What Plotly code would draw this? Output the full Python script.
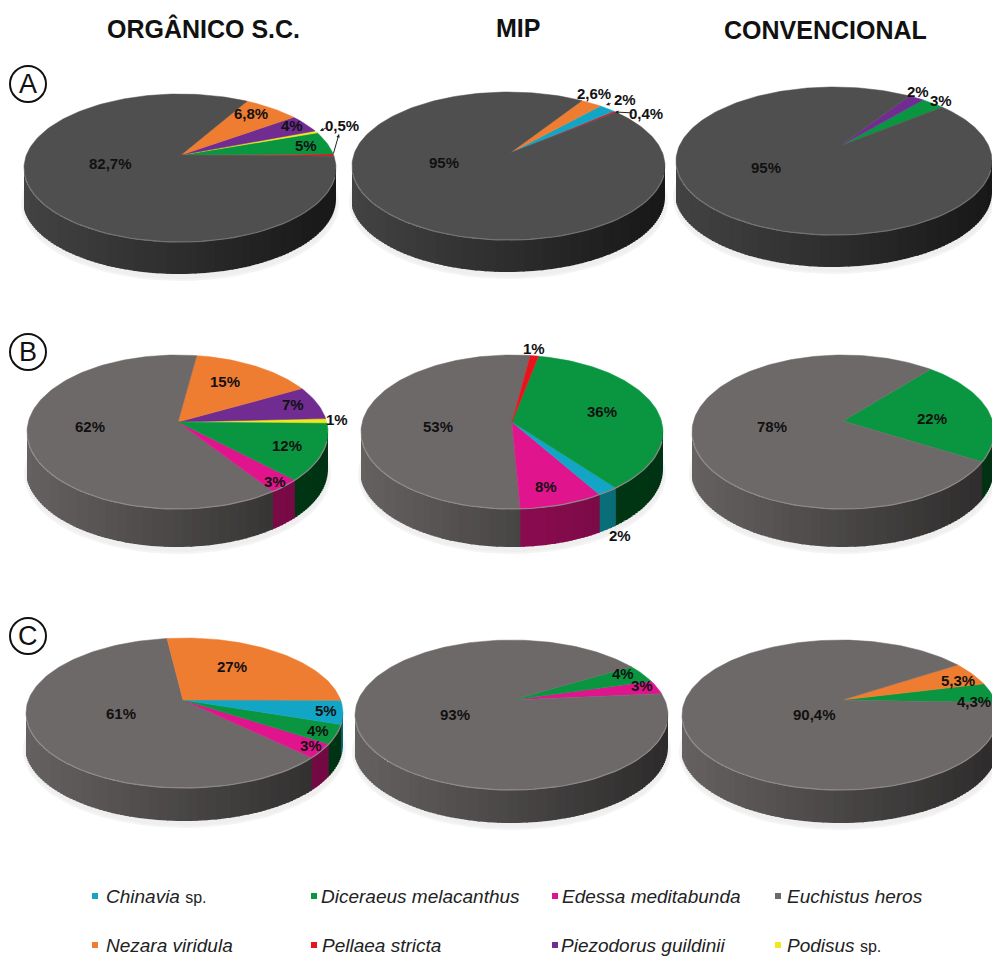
import math
import plotly.graph_objects as go

SPECIES = ["Chinavia sp.", "Diceraeus melacanthus", "Edessa meditabunda", "Euchistus heros",
           "Nezara viridula", "Pellaea stricta", "Piezodorus guildinii", "Podisus sp."]
# values in SPECIES order
A_ORGANICO = [0, 5, 0, 82.7, 6.8, 0.5, 4, 0.5]
A_MIP = [2, 0, 0, 95, 2.6, 0.4, 0, 0]
A_CONV = [0, 3, 0, 95, 0, 0, 2, 0]
B_ORGANICO = [0, 12, 3, 62, 15, 0, 7, 1]
B_MIP = [2, 36, 8, 53, 0, 1, 0, 0]
B_CONV = [0, 22, 0, 78, 0, 0, 0, 0]
C_ORGANICO = [5, 4, 3, 61, 27, 0, 0, 0]
C_MIP = [0, 4, 3, 93, 0, 0, 0, 0]
C_CONV = [0, 4.3, 0, 90.4, 5.3, 0, 0, 0]
COLUMN_TITLES = ["ORGÂNICO S.C.", "MIP", "CONVENCIONAL"]
ROW_LETTERS = ["A", "B", "C"]

# ---- styles / layout ----
COLORS = ["#12a5c5", "#0a9640", "#e0158e", "#6e6969", "#ee7d31", "#e8141c", "#702c91", "#f0e81a"]
SIDE = ["#0b7d88", "#003f18", "#8a0c50", "#444040", "#a85a20", "#8a0c10", "#40185a", "#888010"]
DARK_GRAY = "#4f4f4f"
ORDER_A1 = [5, 1, 7, 6, 4, 3]
ORDER_A2 = [5, 0, 4, 3]
ORDER_A3 = [1, 6, 3]
ORDER_B1 = [7, 6, 4, 3, 2, 1]
ORDER_B2 = [3, 2, 0, 1, 5]
ORDER_B3 = [1, 3]
ORDER_C1 = [3, 2, 1, 0, 4]
ORDER_C2 = [2, 1, 3]
ORDER_C3 = [1, 4, 3]
# values, order, start angle, left, right, top, apex x, apex y, ellipse half height, depth, dark
PIES = [
    (A_ORGANICO, ORDER_A1, -1, 24, 336, 94, 181, 155, 74, 32, True),
    (A_MIP, ORDER_A2, 39, 352, 665, 92, 510, 153, 74, 32, True),
    (A_CONV, ORDER_A3, 39, 676, 992, 87, 840, 146, 74, 32, True),
    (B_ORGANICO, ORDER_B1, -1, 27, 328, 355, 178, 422, 77, 38, False),
    (B_MIP, ORDER_B2, 82, 361, 663, 355, 512, 422, 77, 38, False),
    (B_CONV, ORDER_B3, -30, 692, 994, 355, 843, 421, 77, 38, False),
    (C_ORGANICO, ORDER_C1, 97, 26, 343, 638, 183, 700, 75, 33, False),
    (C_MIP, ORDER_C2, 5, 355, 668, 640, 512, 700, 75, 33, False),
    (C_CONV, ORDER_C3, -2, 682, 998, 640, 842, 700, 75, 33, False),
]
LABELS = [
    ("82,7%", 110, 163), ("6,8%", 251, 113), ("4%", 292, 125), ("5%", 306, 145), ("0,5%", 342, 125),
    ("95%", 444, 162), ("2,6%", 594, 93), ("2%", 625, 99), ("0,4%", 646, 113),
    ("95%", 766, 167), ("2%", 918, 91), ("3%", 941, 100),
    ("62%", 90, 426), ("15%", 225, 381), ("7%", 293, 404), ("1%", 337, 419), ("12%", 287, 445), ("3%", 275, 481),
    ("53%", 438, 426), ("1%", 534, 348), ("36%", 602, 411), ("8%", 546, 486), ("2%", 620, 535),
    ("78%", 772, 426), ("22%", 932, 418),
    ("61%", 121, 713), ("27%", 232, 666), ("5%", 326, 710), ("4%", 318, 730), ("3%", 311, 745),
    ("93%", 455, 714), ("4%", 623, 673), ("3%", 642, 685),
    ("90,4%", 814, 714), ("5,3%", 958, 680), ("4,3%", 974, 701),
]
LEGEND_POS = [(95, 104, 896), (314, 319, 896), (555, 560, 896), (778, 785, 896),
              (95, 104, 945), (314, 320, 945), (555, 559, 945), (778, 785, 945)]
FONT = "Liberation Sans Narrow, Liberation Sans, Arial, sans-serif"
SHADES = 32


def mix(col, f):
    h = col.lstrip("#")
    r, g, b = (int(h[i:i + 2], 16) for i in (0, 2, 4))
    return "#%02x%02x%02x" % (min(255, int(r * f)), min(255, int(g * f)), min(255, int(b * f)))


def ray(theta, ax, ay, cx, cy, a, b):
    """Intersect a ray from the apex with the top ellipse; theta in degrees, counter-clockwise."""
    dx, dy = a * math.cos(math.radians(theta)), -b * math.sin(math.radians(theta))
    px, py = (ax - cx) / a, (ay - cy) / b
    qx, qy = dx / a, dy / b
    A = qx * qx + qy * qy
    B = 2 * (px * qx + py * qy)
    C = px * px + py * py - 1
    s = (-B + math.sqrt(B * B - 4 * A * C)) / (2 * A)
    return ax + s * dx, ay + s * dy


fig = go.Figure()
side_traces = []
tops = []
rims = []
shadows = []

for vals, order, start, left, right, top, ax, ay, b, depth, dark in PIES:
    cx, a = (left + right) / 2, (right - left) / 2
    cy = top + b
    total = sum(vals)
    gray = DARK_GRAY if dark else COLORS[3]
    th = start
    strips = []
    for k in order:
        span = vals[k] / total * 360
        col = gray if k == 3 else COLORS[k]
        n = max(2, int(span / 1.5))
        pts = [ray(th + span * i / n, ax, ay, cx, cy, a, b) for i in range(n + 1)]
        # side wall strips, in a banded shade that darkens to the right
        for i in range(n):
            (x0, y0), (x1, y1) = pts[i], pts[i + 1]
            if y0 < cy and y1 < cy:
                continue
            xm = (x0 + x1) / 2
            u = round((xm - left) / (right - left) * SHADES) / SHADES
            shade = 0.93 - 0.52 * u if not dark else 0.85 - 0.55 * u
            c = mix(gray, shade) if k == 3 else mix(SIDE[k], min(1.0, 1.25 - 0.45 * u))
            xl = max(left, x0 - 1.5)
            strips.append((xm, c, [xl, x1, x1, xl, xl, None], [y0, y1, y1 + depth, y0 + depth, y0, None]))
        tops.append(([ax] + [p[0] for p in pts] + [ax], [ay] + [p[1] for p in pts] + [ay], col))
        th += span
    strips.sort(key=lambda s: -s[0])  # right first, left strips on top
    last = None
    for xm, c, xs, ys in strips:
        if last is None or last[0] != c:
            last = [c, [], []]
            side_traces.append(last)
        last[1].extend(xs)
        last[2].extend(ys)
    # rim highlight and soft shadow
    rx, ry = [], []
    for d in range(185, 356, 3):
        rx.append(cx + a * math.cos(math.radians(d)))
        ry.append(cy - b * math.sin(math.radians(d)))
    rims.append((rx, ry, mix(gray, 1.45 if dark else 1.3)))
    sx, sy = [], []
    for d in range(0, 361, 5):
        sx.append(cx + (a + 2) * math.cos(math.radians(d)))
        sy.append(cy + depth + 4 - (b + 2) * math.sin(math.radians(d)))
    shadows.append((sx, sy))

for sx, sy in shadows:
    fig.add_trace(go.Scatter(x=sx, y=sy, mode="lines", fill="toself", fillcolor="#efefef",
                             line=dict(color="#f4f4f4", width=2), hoverinfo="skip"))
for c, xs, ys in side_traces:
    fig.add_trace(go.Scatter(x=xs, y=ys, mode="lines", fill="toself", fillcolor=c,
                             line=dict(width=0), hoverinfo="skip"))
for xs, ys, c in tops:
    fig.add_trace(go.Scatter(x=xs, y=ys, mode="lines", fill="toself", fillcolor=c,
                             line=dict(color=c, width=0.5), hoverinfo="skip"))
for xs, ys, c in rims:
    fig.add_trace(go.Scatter(x=xs, y=ys, mode="lines", line=dict(color=c, width=1.2), hoverinfo="skip"))

# legend markers
fig.add_trace(go.Scatter(x=[p[0] for p in LEGEND_POS], y=[p[2] for p in LEGEND_POS], mode="markers",
                         marker=dict(symbol="square", size=6, color=COLORS), hoverinfo="skip"))

ann = []
for t, x, y in LABELS:
    ann.append(dict(x=x, y=y, text="<b>%s</b>" % t, showarrow=False,
                    font=dict(family=FONT, size=15, color="#111111")))
for t, x, y in zip(COLUMN_TITLES, (203, 518, 825), (28, 28, 30)):
    ann.append(dict(x=x, y=y, text="<b>%s</b>" % t, showarrow=False,
                    font=dict(family="Liberation Sans, Arial, sans-serif", size=25, color="#111111")))
for t, y in zip(ROW_LETTERS, (84, 352, 636)):
    ann.append(dict(x=28, y=y, text=t, showarrow=False,
                    font=dict(family="Liberation Sans, Arial, sans-serif", size=27, color="#111111")))
for name, (mx, tx, y) in zip(SPECIES, LEGEND_POS):
    parts = name.split(" ")
    if parts[-1] == "sp.":
        txt = "<i>%s</i> <span style='font-size:16px'>sp.</span>" % parts[0]
    else:
        txt = "<i>%s</i>" % name
    ann.append(dict(x=tx, y=y, text=txt, showarrow=False, xanchor="left",
                    font=dict(family="Liberation Sans, Arial, sans-serif", size=19, color="#222222")))
# pointer arrows for the narrowest slices
for (x0, y0, x1, y1) in [(328, 127, 320, 131), (333, 155, 339, 134), (634, 113, 615, 112), (612, 103, 606, 105)]:
    ann.append(dict(x=x1, y=y1, ax=x0, ay=y0, axref="x", ayref="y", xref="x", yref="y", text="",
                    showarrow=True, arrowhead=2, arrowsize=0.7, arrowwidth=1, arrowcolor="#222222"))

shapes = [dict(type="circle", xref="x", yref="y", x0=10, x1=46, y0=y - 18, y1=y + 18,
               line=dict(color="#111111", width=2), fillcolor="rgba(0,0,0,0)") for y in (84, 352, 636)]

fig.update_layout(
    width=992, height=959, margin=dict(l=0, r=0, t=0, b=0), showlegend=False,
    paper_bgcolor="white", plot_bgcolor="white",
    xaxis=dict(range=[0, 992], visible=False, fixedrange=True),
    yaxis=dict(range=[959, 0], visible=False, fixedrange=True),
    annotations=ann, shapes=shapes,
)
fig.write_html("out.html", config=dict(displayModeBar=False),
               post_script="document.body.style.margin='0';document.documentElement.style.overflow='hidden';")
